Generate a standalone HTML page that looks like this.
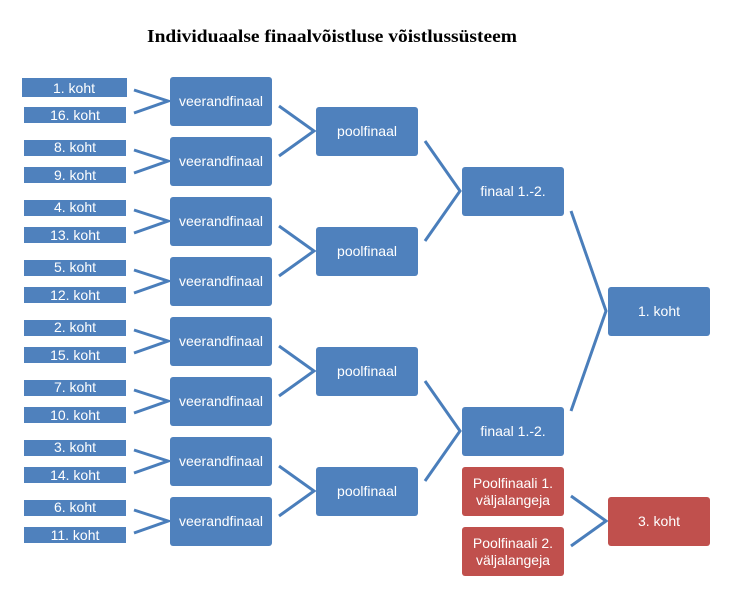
<!DOCTYPE html>
<html><head><meta charset="utf-8"><style>
html,body{margin:0;padding:0;background:#fff;}
svg{display:block;}
text{font-family:"Liberation Sans",sans-serif;font-size:14px;fill:#fff;text-anchor:middle;}
.t{font-family:"Liberation Serif",serif;font-weight:bold;font-size:18px;fill:#000;text-anchor:start;}
.b{fill:#4F81BD;}
.r{fill:#C0504D;}
.l{fill:none;stroke:#4A7EBB;stroke-width:3;}
</style></head><body>
<svg width="742" height="616" viewBox="0 0 742 616">
<text class="t" x="147" y="42" textLength="370" lengthAdjust="spacingAndGlyphs">Individuaalse finaalvõistluse võistlussüsteem</text>

<g>
<rect class="b" x="22" y="78" width="105" height="19"/><text x="74" y="93">1. koht</text>
<rect class="b" x="24" y="107" width="102" height="16"/><text x="75" y="120">16. koht</text>
<rect class="b" x="24" y="140" width="102" height="16"/><text x="75" y="152">8. koht</text>
<rect class="b" x="24" y="167" width="102" height="16"/><text x="75" y="180">9. koht</text>
<rect class="b" x="24" y="200" width="102" height="16"/><text x="75" y="212">4. koht</text>
<rect class="b" x="24" y="227" width="102" height="16"/><text x="75" y="240">13. koht</text>
<rect class="b" x="24" y="260" width="102" height="16"/><text x="75" y="272">5. koht</text>
<rect class="b" x="24" y="287" width="102" height="16"/><text x="75" y="300">12. koht</text>
<rect class="b" x="24" y="320" width="102" height="16"/><text x="75" y="332">2. koht</text>
<rect class="b" x="24" y="347" width="102" height="16"/><text x="75" y="360">15. koht</text>
<rect class="b" x="24" y="380" width="102" height="16"/><text x="75" y="392">7. koht</text>
<rect class="b" x="24" y="407" width="102" height="16"/><text x="75" y="420">10. koht</text>
<rect class="b" x="24" y="440" width="102" height="16"/><text x="75" y="452">3. koht</text>
<rect class="b" x="24" y="467" width="102" height="16"/><text x="75" y="480">14. koht</text>
<rect class="b" x="24" y="500" width="102" height="16"/><text x="75" y="512">6. koht</text>
<rect class="b" x="24" y="527" width="102" height="16"/><text x="75" y="540">11. koht</text>
</g>

<polyline class="l" points="134,90 168,101 134,113"/>
<polyline class="l" points="134,150 168,161 134,173"/>
<polyline class="l" points="134,210 168,221 134,233"/>
<polyline class="l" points="134,270 168,281 134,293"/>
<polyline class="l" points="134,330 168,341 134,353"/>
<polyline class="l" points="134,390 168,401 134,413"/>
<polyline class="l" points="134,450 168,461 134,473"/>
<polyline class="l" points="134,510 168,521 134,533"/>

<rect class="b" x="170" y="77" width="102" height="49" rx="3"/><text x="221" y="106">veerandfinaal</text>
<rect class="b" x="170" y="137" width="102" height="49" rx="3"/><text x="221" y="166">veerandfinaal</text>
<rect class="b" x="170" y="197" width="102" height="49" rx="3"/><text x="221" y="226">veerandfinaal</text>
<rect class="b" x="170" y="257" width="102" height="49" rx="3"/><text x="221" y="286">veerandfinaal</text>
<rect class="b" x="170" y="317" width="102" height="49" rx="3"/><text x="221" y="346">veerandfinaal</text>
<rect class="b" x="170" y="377" width="102" height="49" rx="3"/><text x="221" y="406">veerandfinaal</text>
<rect class="b" x="170" y="437" width="102" height="49" rx="3"/><text x="221" y="466">veerandfinaal</text>
<rect class="b" x="170" y="497" width="102" height="49" rx="3"/><text x="221" y="526">veerandfinaal</text>

<polyline class="l" points="279,106 314,131 279,156"/>
<polyline class="l" points="279,226 314,251 279,276"/>
<polyline class="l" points="279,346 314,371 279,396"/>
<polyline class="l" points="279,466 314,491 279,516"/>

<rect class="b" x="316" y="107" width="102" height="49" rx="3"/><text x="367" y="136">poolfinaal</text>
<rect class="b" x="316" y="227" width="102" height="49" rx="3"/><text x="367" y="256">poolfinaal</text>
<rect class="b" x="316" y="347" width="102" height="49" rx="3"/><text x="367" y="376">poolfinaal</text>
<rect class="b" x="316" y="467" width="102" height="49" rx="3"/><text x="367" y="496">poolfinaal</text>

<polyline class="l" points="425,141 460,191 425,241"/>
<polyline class="l" points="425,381 460,431 425,481"/>

<rect class="b" x="462" y="167" width="102" height="49" rx="3"/><text x="513" y="196">finaal 1.-2.</text>
<rect class="b" x="462" y="407" width="102" height="49" rx="3"/><text x="513" y="436">finaal 1.-2.</text>

<polyline class="l" points="571,211 606,311 571,411"/>

<rect class="b" x="608" y="287" width="102" height="49" rx="3"/><text x="659" y="316">1. koht</text>

<rect class="r" x="462" y="467" width="102" height="49" rx="3"/><text x="513" y="488">Poolfinaali 1.</text><text x="513" y="505">väljalangeja</text>
<rect class="r" x="462" y="527" width="102" height="49" rx="3"/><text x="513" y="548">Poolfinaali 2.</text><text x="513" y="565">väljalangeja</text>

<polyline class="l" points="571,496 606,521 571,546"/>

<rect class="r" x="608" y="497" width="102" height="49" rx="3"/><text x="659" y="526">3. koht</text>
</svg>
</body></html>
